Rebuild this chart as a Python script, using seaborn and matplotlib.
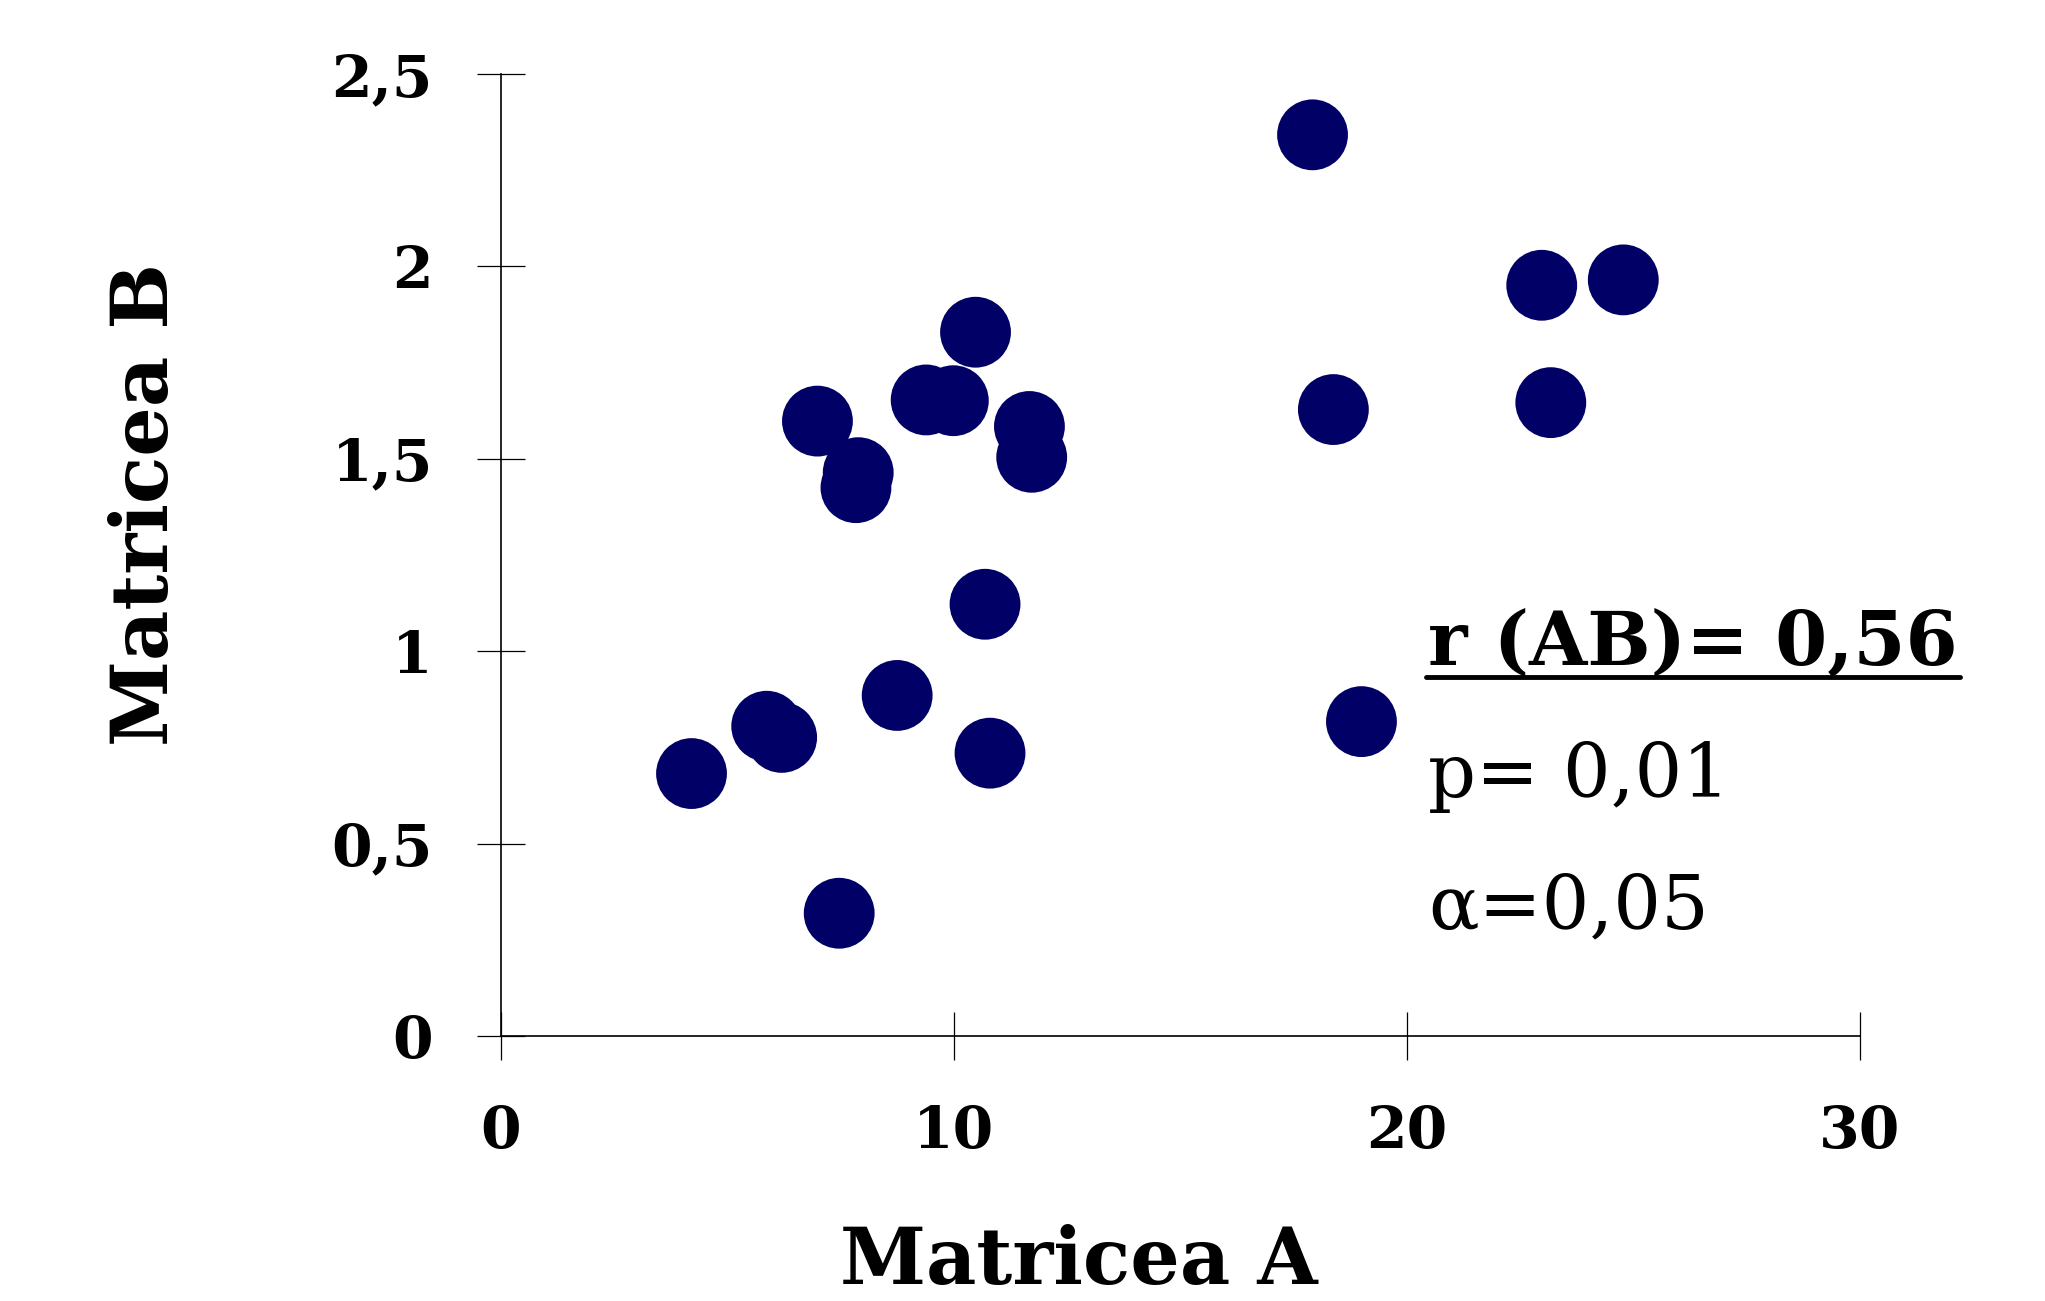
import numpy as np
import pandas as pd
import matplotlib
matplotlib.use("Agg")
import matplotlib.pyplot as plt
from matplotlib.lines import Line2D
import seaborn as sns

# ====================== DATA ======================

matrix_a = [4.21, 5.87, 6.20, 7.47, 6.99, 7.89, 7.84, 8.75, 9.39, 9.99,
            10.48, 10.69, 10.80, 11.67, 11.72, 17.92, 18.38, 19.00,
            22.98, 24.78, 23.18]
matrix_b = [0.682, 0.805, 0.776, 0.319, 1.598, 1.464, 1.425, 0.885, 1.653, 1.651,
            1.829, 1.122, 0.735, 1.584, 1.504, 2.342, 1.628, 0.817,
            1.951, 1.965, 1.646]

x_ticks = [0, 10, 20, 30]
y_ticks = [0, 0.5, 1, 1.5, 2, 2.5]
y_tick_labels = ["0", "0,5", "1", "1,5", "2", "2,5"]

stat_r     = "r (AB)= 0,56"
stat_p     = "p= 0,01"
stat_alpha = "\u03b1=0,05"

# ====================== STYLE ======================

sns.set_theme(style="white")
plt.rcParams['font.family'] = ['DejaVu Serif']

NAVY = "#000066"

df = pd.DataFrame({"Matricea A": matrix_a, "Matricea B": matrix_b})

fig = plt.figure(figsize=(20.45, 13.01), dpi=100)
ax = fig.add_axes([0.2449, 0.2037, 0.6645, 0.7394])

sns.scatterplot(data=df, x="Matricea A", y="Matricea B", ax=ax,
                s=2600, color=NAVY, edgecolor="none", linewidth=0, clip_on=False)

ax.set_xlim(0, 30)
ax.set_ylim(0, 2.5)
ax.set_xticks(x_ticks)
ax.set_xticklabels([str(t) for t in x_ticks])
ax.set_yticks(y_ticks)
ax.set_yticklabels(y_tick_labels)

for side in ["top", "right"]:
    ax.spines[side].set_visible(False)
for side in ["left", "bottom"]:
    ax.spines[side].set_color("black")
    ax.spines[side].set_linewidth(1.2)

ax.tick_params(axis="both", bottom=True, left=True, direction="inout",
               length=34, width=0.9, color="black", pad=32,
               labelsize=42, labelcolor="black")
for lbl in ax.get_xticklabels() + ax.get_yticklabels():
    lbl.set_fontweight("bold")

ax.set_xlabel("Matricea A", fontsize=56, fontweight="bold", color="black")
ax.set_ylabel("Matricea B", fontsize=56, fontweight="bold", color="black")
ax.xaxis.set_label_coords(0.4255, -0.235)
ax.xaxis.label.set_va("center")
ax.yaxis.set_label_coords(-0.261, 0.552)
ax.yaxis.label.set_va("center")

# ---- statistics ----
t_r = ax.text(20.47, 0.965, stat_r, fontsize=54, fontweight="bold",
              color="black", va="baseline", ha="left")
ax.text(20.47, 0.62, stat_p, fontsize=54, color="black", va="baseline", ha="left")
ax.text(20.47, 0.28, stat_alpha, fontsize=54, color="black", va="baseline", ha="left")

# underline for the r line
fig.canvas.draw()
bb = t_r.get_window_extent(renderer=fig.canvas.get_renderer())
y_line = ax.transData.transform((0, 0.933))[1]
fig.add_artist(Line2D([bb.x0 - 2, bb.x1 + 2], [y_line, y_line],
                      transform=None, color="black", linewidth=3.5))

fig.savefig("out.png", dpi=100)
